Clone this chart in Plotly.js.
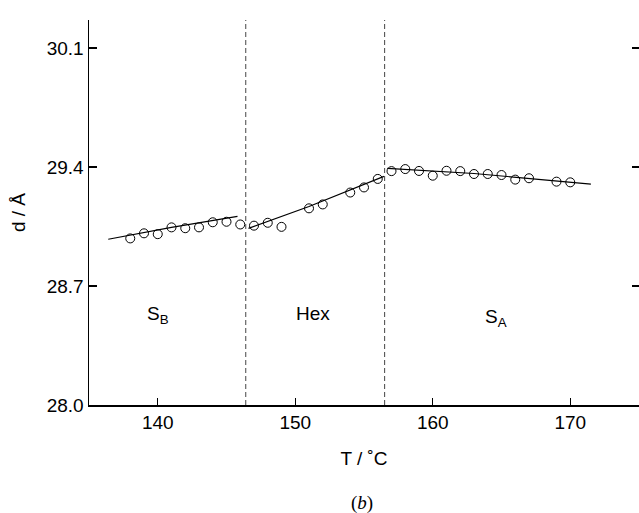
<!DOCTYPE html>
<html>
<head>
<meta charset="utf-8">
<script src="https://cdn.plot.ly/plotly-3.0.1.min.js"></script>
<style>html,body{margin:0;padding:0;background:#fff;}#plot{width:639px;height:513px;}</style>
</head>
<body>
<div id="plot"></div>
<script>
// Measured data (T in °C, d in Å)
const sbT = [138, 139, 140, 141, 142, 143, 144, 145, 146];
const sbD = [28.98, 29.01, 29.005, 29.045, 29.04, 29.045, 29.075, 29.078, 29.062];
const hexT = [147, 148, 149, 151, 152, 154, 155, 156];
const hexD = [29.055, 29.072, 29.048, 29.157, 29.18, 29.25, 29.28, 29.33];
const saT = [157, 158, 159, 160, 161, 162, 163, 164, 165, 166, 167, 169, 170];
const saD = [29.376, 29.388, 29.377, 29.349, 29.378, 29.376, 29.359, 29.359, 29.353, 29.326, 29.334, 29.314, 29.31];

// Fitted lines
const sbFitT = [136.4, 141, 145.8];
const sbFitD = [28.975, 29.045, 29.11];
const hexFitT = [146.6, 151, 156.45];
const hexFitD = [29.039, 29.168, 29.345];
const saFitT = [156.7, 163, 171.5];
const saFitD = [29.392, 29.362, 29.30];

// Phase transitions
const transitionT = [146.4, 156.5];
const phaseLabels = ["S<sub>B</sub>", "Hex", "S<sub>A</sub>"];
const phaseLabelT = [140, 151.3, 164.6];
const phaseLabelD = [28.53, 28.54, 28.51];

const xTicks = [140, 150, 160, 170];
const yTicks = [28.0, 28.7, 29.4, 30.1];
const yRange = [28.0, 30.265];

const FONT = "Liberation Sans, Arial, Helvetica, sans-serif";

const markerStyle = {symbol: "circle-open", size: 9, color: "#000", line: {width: 1}};
const lineStyle = {color: "#000", width: 1.2};

const traces = [
  {x: sbFitT, y: sbFitD, mode: "lines", line: lineStyle, hoverinfo: "skip"},
  {x: hexFitT, y: hexFitD, mode: "lines", line: lineStyle, hoverinfo: "skip"},
  {x: saFitT, y: saFitD, mode: "lines", line: lineStyle, hoverinfo: "skip"},
  {x: sbT, y: sbD, mode: "markers", marker: markerStyle},
  {x: hexT, y: hexD, mode: "markers", marker: markerStyle},
  {x: saT, y: saD, mode: "markers", marker: markerStyle},
  // invisible trace to carry the right-hand tick axis
  {x: [sbT[0]], y: [sbD[0]], yaxis: "y2", mode: "markers", marker: {opacity: 0}, hoverinfo: "skip"}
];

const shapes = transitionT.map(t => ({
  type: "line", xref: "x", yref: "paper", x0: t, x1: t, y0: 0, y1: 1,
  line: {color: "#444", width: 1, dash: "5px,3px"}
}));

const annotations = phaseLabels.map((txt, i) => ({
  x: phaseLabelT[i], y: phaseLabelD[i], xref: "x", yref: "y",
  text: txt, showarrow: false, font: {family: FONT, size: 19, color: "#000"}
}));
annotations.push({
  xref: "paper", yref: "paper", x: 0.497, y: -0.255, yanchor: "middle",
  text: "(<i>b</i>)", showarrow: false,
  font: {family: "Liberation Serif, Times New Roman, serif", size: 19, color: "#000"}
});

const layout = {
  width: 639, height: 513,
  margin: {l: 89, r: 0, t: 20, b: 108},
  paper_bgcolor: "#fff", plot_bgcolor: "#fff",
  showlegend: false,
  font: {family: FONT, size: 19, color: "#000"},
  xaxis: {
    range: [135, 175], tickvals: xTicks, ticktext: xTicks.map(String),
    ticks: "inside", ticklen: 7, tickwidth: 1.2, tickcolor: "#000",
    showline: true, linecolor: "#000", linewidth: 1.5,
    showgrid: false, zeroline: false,
    tickfont: {family: FONT, size: 19},
    title: {text: "T / ˚C", font: {family: FONT, size: 19}, standoff: 19}
  },
  yaxis: {
    range: yRange, tickvals: yTicks, ticktext: yTicks.map(v => v.toFixed(1)),
    ticks: "inside", ticklen: 8, tickwidth: 1.2, tickcolor: "#000",
    showline: true, linecolor: "#000", linewidth: 1.5,
    showgrid: false, zeroline: false,
    tickfont: {family: FONT, size: 19},
    title: {text: "d / Å", font: {family: FONT, size: 19}, standoff: 16}
  },
  yaxis2: {
    range: yRange, tickvals: yTicks, overlaying: "y", side: "right",
    ticks: "inside", ticklen: 7, tickwidth: 1.2, tickcolor: "#000",
    showline: false, showgrid: false, zeroline: false, showticklabels: false
  },
  shapes: shapes,
  annotations: annotations
};

Plotly.newPlot("plot", traces, layout, {displayModeBar: false, staticPlot: true});
</script>
</body>
</html>
